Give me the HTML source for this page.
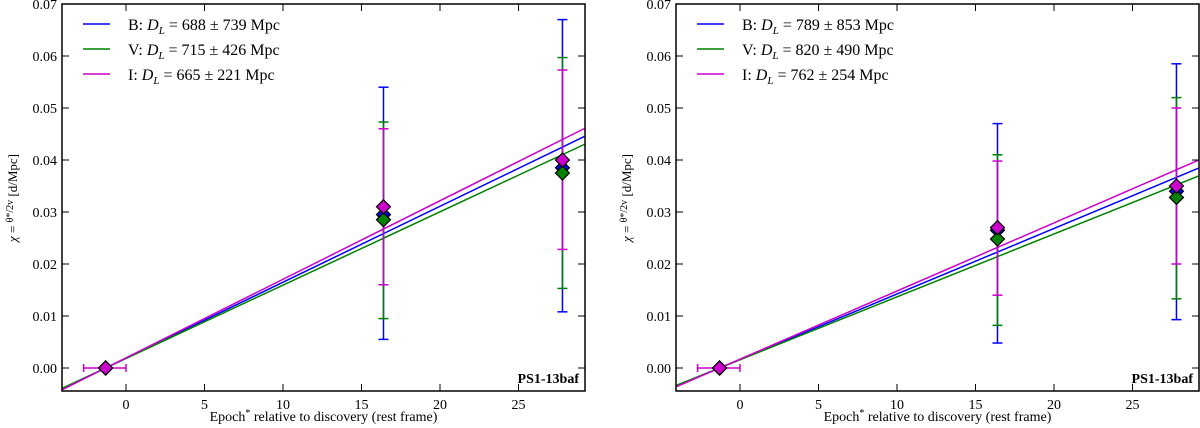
<!DOCTYPE html>
<html><head><meta charset="utf-8"><style>
body{margin:0;background:#fff}
svg{display:block;font-family:"Liberation Serif",serif}
</style></head><body>
<svg id="s" width="1200" height="428" viewBox="0 0 1200 428" xmlns="http://www.w3.org/2000/svg"></svg>
<script>
const xTicks=[0,5,10,15,20,25];
const yTicks=[0,0.01,0.02,0.03,0.04,0.05,0.06,0.07];
const yTickLabels=["0.00","0.01","0.02","0.03","0.04","0.05","0.06","0.07"];
const epochs=[-1.3,16.4,27.8];
const bands=["B","V","I"];
const colors=["#0000ff","#008000","#cc00cc"];
const leftLegend=["688 \u00b1 739","715 \u00b1 426","665 \u00b1 221"];
const rightLegend=["789 \u00b1 853","820 \u00b1 490","762 \u00b1 254"];
const leftVals=[[0,0.0295,0.0385],[0,0.0285,0.0375],[0,0.031,0.040]];
const leftLo=[[0,0.0055,0.0108],[0,0.0095,0.0153],[0,0.016,0.0228]];
const leftHi=[[0,0.054,0.067],[0,0.0473,0.0597],[0,0.046,0.0573]];
const leftSlopes=[0.00146,0.00141,0.00151];
const rightVals=[[0,0.0265,0.034],[0,0.0248,0.0328],[0,0.027,0.035]];
const rightLo=[[0,0.0048,0.0093],[0,0.0082,0.0133],[0,0.014,0.020]];
const rightHi=[[0,0.047,0.0585],[0,0.041,0.052],[0,0.0398,0.050]];
const rightSlopes=[0.00126,0.00121,0.00131];
const xErrLo=-2.7, xErrHi=0;
const xMin=-4.08,xMax=29.2,yMin=-0.0044,yMax=0.07;
const NS="http://www.w3.org/2000/svg";
const svg=document.getElementById('s');
function mk(t,a,p){const e=document.createElementNS(NS,t);for(const k in a)e.setAttribute(k,a[k]);(p||svg).appendChild(e);return e;}
function panel(off,vals,lo,hi,slopes,leg,name){
  const g=mk('g',{});
  
  
  const L=62+off,R=585+off,T=4,B=391;
  const X=v=>126+off+v*15.7, Y=v=>368-v*5200;
  const cp='clip'+off;
  const cl=mk('clipPath',{id:cp},g);mk('rect',{x:L,y:T,width:R-L,height:B-T},cl);
  const plot=mk('g',{'clip-path':'url(#'+cp+')'},g);
  // fit lines
  for(let i=0;i<3;i++){
    const ln=mk('line',{x1:X(xMin),y1:Y(slopes[i]*(xMin-epochs[0])),x2:X(xMax),y2:Y(slopes[i]*(xMax-epochs[0])),stroke:colors[i],'stroke-width':1.5},plot);
    
    
  }
  // error bars (B first, then V, then I on top)
  for(let i=0;i<3;i++){
    for(let j=1;j<3;j++){
      const x=X(epochs[j]);
      mk('line',{x1:x,x2:x,y1:Y(lo[i][j]),y2:Y(hi[i][j]),stroke:colors[i],'stroke-width':1.5},plot);
      for(const v of [lo[i][j],hi[i][j]])mk('line',{x1:x-5,x2:x+5,y1:Y(v),y2:Y(v),stroke:colors[i],'stroke-width':1.5},plot);
    }
  }
  // horizontal error on first point
  const y0=Y(0);
  mk('line',{x1:X(xErrLo),x2:X(xErrHi),y1:y0,y2:y0,stroke:colors[2],'stroke-width':1.5},plot);
  for(const v of [xErrLo,xErrHi])mk('line',{x1:X(v),x2:X(v),y1:y0-4,y2:y0+4,stroke:colors[2],'stroke-width':1.5},plot);
  // markers
  for(let i=0;i<3;i++)for(let j=0;j<3;j++){
    const x=X(epochs[j]),y=Y(vals[i][j]),r=7;
    const d=mk('polygon',{points:`${x},${y-r} ${x+r},${y} ${x},${y+r} ${x-r},${y}`,fill:colors[i],stroke:'#000','stroke-width':1.2},plot);
    
    
  }
  // axes frame
  const fr=mk('rect',{x:L,y:T,width:R-L,height:B-T,fill:'none',stroke:'#000','stroke-width':1.5},g);
  
  
  xTicks.forEach(t=>{const x=X(t);
    mk('line',{x1:x,x2:x,y1:B,y2:B-7,stroke:'#000'},g);mk('line',{x1:x,x2:x,y1:T,y2:T+7,stroke:'#000'},g);
    const tx=mk('text',{x:x,y:B+18,'text-anchor':'middle','font-size':14},g);tx.textContent=t;
    
    
  });
  yTicks.forEach((t,k)=>{const y=Y(t);
    mk('line',{x1:L,x2:L+7,y1:y,y2:y,stroke:'#000'},g);mk('line',{x1:R,x2:R-7,y1:y,y2:y,stroke:'#000'},g);
    const tx=mk('text',{x:L-5,y:y+5,'text-anchor':'end','font-size':14},g);tx.textContent=yTickLabels[k];
    
    
  });
  const xl=mk('text',{x:(L+R)/2,y:421,'text-anchor':'middle','font-size':14},g);
  xl.innerHTML='Epoch<tspan dy="-5" font-size="10">*</tspan><tspan dy="5"> relative to discovery (rest frame)</tspan>';
  
  
  const yl=mk('text',{x:0,y:0,'text-anchor':'middle','font-size':13,transform:`translate(${17+off},198) rotate(-90)`},g);
  yl.innerHTML='<tspan font-style="italic">χ</tspan> = <tspan font-size="10" dy="-4">θ*/2v</tspan><tspan dy="4"> [d/Mpc]</tspan>';
  
  
  for(let i=0;i<3;i++){
    const y=24+i*25;
    mk('line',{x1:83+off,x2:110+off,y1:y,y2:y,stroke:colors[i],'stroke-width':1.5},g);
    const t=mk('text',{x:128+off,y:y+6,'font-size':16},g);
    t.innerHTML=bands[i]+': <tspan font-style="italic">D</tspan><tspan font-style="italic" font-size="11" dy="4">L</tspan><tspan dy="-4"> = '+leg[i]+' Mpc</tspan>';
    
    
  }
  const lab=mk('text',{x:R-6,y:B-8,'text-anchor':'end','font-size':14,'font-weight':'bold'},g);
  lab.textContent='PS1-13baf';
  
  
}
panel(0,leftVals,leftLo,leftHi,leftSlopes,leftLegend,'left-panel');
panel(614,rightVals,rightLo,rightHi,rightSlopes,rightLegend,'right-panel');
</script>
</body></html>
